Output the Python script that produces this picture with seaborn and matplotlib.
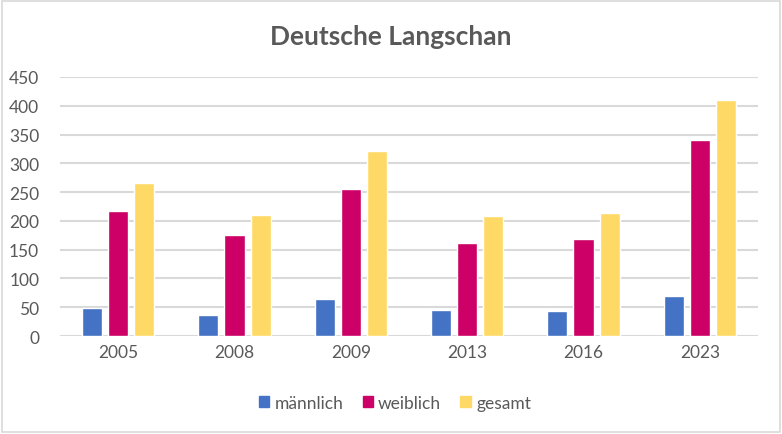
import seaborn as sns
import matplotlib.pyplot as plt
import matplotlib.patches as mpatches
import pandas as pd

years = ['2005', '2008', '2009', '2013', '2016', '2023']
maennlich = [48, 36, 65, 46, 44, 70]
weiblich = [218, 175, 256, 162, 169, 340]
gesamt = [266, 211, 321, 208, 213, 410]
series = ['männlich', 'weiblich', 'gesamt']
colors = ['#4472C4', '#CC0066', '#FFD966']

df = pd.DataFrame({'Jahr': years * 3,
                   'Wert': maennlich + weiblich + gesamt,
                   'Serie': [s for s in series for _ in years]})

sns.set_style('white')
plt.rcParams['font.family'] = ['Lato', 'DejaVu Sans']
txt = '#595959'

fig = plt.figure(figsize=(7.82, 4.35), dpi=100)
ax = fig.add_axes([60 / 782, 1 - 337 / 435, 698 / 782, 259 / 435])

sns.barplot(data=df, x='Jahr', y='Wert', hue='Serie', palette=colors,
            width=0.672, gap=0.23, ax=ax, legend=False, saturation=1)

ax.set_ylim(0, 450)
ax.set_yticks(range(0, 451, 50))
ax.yaxis.grid(True, color='#D9D9D9', linewidth=1.5)
ax.set_axisbelow(True)
for s in ax.spines.values():
    s.set_visible(False)
ax.set_xlabel('')
ax.set_ylabel('')
ax.tick_params(axis='both', length=0, labelsize=12.5, colors=txt, pad=6)
ax.tick_params(axis='y', pad=15)

fig.text(0.5, 1 - 37 / 435, 'Deutsche Langschan', ha='center', va='center',
         fontsize=19, fontweight='bold', color=txt)

handles = [mpatches.Patch(color=c, label=s) for c, s in zip(colors, series)]
fig.legend(handles=handles, loc='center', bbox_to_anchor=(0.505, 1 - 404 / 435),
           ncol=3, frameon=False, fontsize=12.5, labelcolor=txt,
           handlelength=0.6, handleheight=0.6, handletextpad=0.3, columnspacing=1.1)

fig.patches.append(mpatches.Rectangle((0.002, 0.004), 0.995, 0.992, transform=fig.transFigure,
                                      fill=False, edgecolor='#D9D9D9', linewidth=1.2))

fig.savefig('out.png', dpi=100)
